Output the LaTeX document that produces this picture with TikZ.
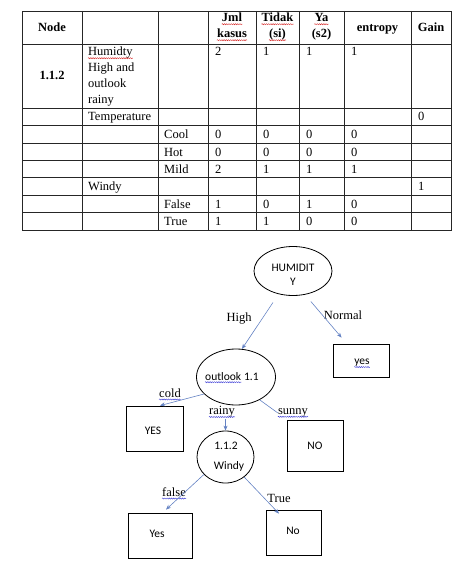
\documentclass[tikz,border=0pt]{standalone}
\usepackage{fontspec}
\setmainfont{Liberation Serif}
\newfontfamily\carl{Carlito}
\usetikzlibrary{shapes.geometric,arrows.meta,decorations.pathmorphing}
\definecolor{arrblue}{RGB}{100,130,195}
\definecolor{squigred}{RGB}{215,45,45}
\definecolor{squigblue}{RGB}{70,70,215}
\tikzset{
 grid/.style={line width=0.8pt, draw=black!85},
 cell/.style={anchor=base west, inner sep=0pt, font=\fontsize{12.5}{15}\selectfont},
 head/.style={anchor=base, inner sep=0pt, font=\fontsize{12.5}{15}\selectfont\bfseries},
 lab/.style={inner sep=0pt, font=\fontsize{12.5}{15}\selectfont},
 ell/.style={ellipse, draw, line width=0.8pt, inner sep=0pt},
 box/.style={rectangle, draw, line width=0.8pt, inner sep=0pt},
 sans/.style={inner sep=0pt, font=\carl\fontsize{11.5}{14}\selectfont},
 arr/.style={draw=arrblue, line width=0.6pt, -{Stealth[length=5pt,width=4pt]}},
 conn/.style={draw=arrblue, line width=0.6pt},
 squig/.style={line width=0.45pt, decorate, decoration={snake, amplitude=0.55pt, segment length=2.2pt}}
}
\newcommand\sq[2]{\draw[squig,#2] ([yshift=-2.2pt]#1.base west) -- ([yshift=-2.2pt]#1.base east);}
\begin{document}
\begin{tikzpicture}[x=1pt,y=-1pt]
\useasboundingbox (0,0) rectangle (474,575);
% ---------- table grid ----------
\draw[grid] (22,11) rectangle (451,230);
\foreach \yy in {44,108,125.4,142.9,160.3,177.7,195.1,212.6}
  \draw[grid] (22,\yy) -- (451,\yy);
\foreach \xx in {82,158,208,256,299,344,411}
  \draw[grid] (\xx,11) -- (\xx,230);
% ---------- header ----------
\node[head] (hNode) at (52,32) {Node};
\node[head] (hJml) at (232,22) {Jml};
\node[head] (hKas) at (232,38) {kasus};
\node[head] (hTid) at (277.5,22) {Tidak};
\node[head] (hSi) at (277.5,38) {(si)};
\node[head] (hYa) at (321.5,22) {Ya};
\node[head] (hS2) at (321.5,38) {(s2)};
\node[head] (hEnt) at (377.5,32) {entropy};
\node[head] (hGain) at (431,32) {Gain};
\sq{hJml}{squigred}\sq{hKas}{squigred}\sq{hTid}{squigred}\sq{hSi}{squigred}\sq{hYa}{squigred}
% ---------- row 1 ----------
\node[head] (r1node) at (52,80) {1.1.2};
\node[cell] (r1a) at (88,56) {Humidty};
\node[cell] (r1b) at (88,72) {High and};
\node[cell] (r1c) at (88,88) {outlook};
\node[cell] (r1d) at (88,103) {rainy};
\sq{r1a}{squigred}
\node[cell] (r1j) at (215,56) {2};
\node[cell] (r1t) at (263,56) {1};
\node[cell] (r1y) at (306,56) {1};
\node[cell] (r1e) at (351,56) {1};
% ---------- temperature ----------
\node[cell] (tTemp) at (88,121) {Temperature};
\node[cell] (tGain) at (418,121) {0};
\node[cell] (cCool) at (164,138.5) {Cool};
\node[cell] (cJ) at (215,138.5) {0};
\node[cell] (cT) at (263,138.5) {0};
\node[cell] (cY) at (306,138.5) {0};
\node[cell] (cE) at (351,138.5) {0};
\node[cell] (hHot) at (164,156) {Hot};
\node[cell] (hJ) at (215,156) {0};
\node[cell] (hT) at (263,156) {0};
\node[cell] (hY) at (306,156) {0};
\node[cell] (hE) at (351,156) {0};
\node[cell] (mMild) at (164,173.3) {Mild};
\node[cell] (mJ) at (215,173.3) {2};
\node[cell] (mT) at (263,173.3) {1};
\node[cell] (mY) at (306,173.3) {1};
\node[cell] (mE) at (351,173.3) {1};
% ---------- windy ----------
\node[cell] (wWindy) at (88,190.7) {Windy};
\node[cell] (wGain) at (418,190.7) {1};
\node[cell] (fFalse) at (164,208.2) {False};
\node[cell] (fJ) at (215,208.2) {1};
\node[cell] (fT) at (263,208.2) {0};
\node[cell] (fY) at (306,208.2) {1};
\node[cell] (fE) at (351,208.2) {0};
\node[cell] (tTrue) at (164,225.6) {True};
\node[cell] (tJ) at (215,225.6) {1};
\node[cell] (tT) at (263,225.6) {1};
\node[cell] (tY) at (306,225.6) {0};
\node[cell] (tE) at (351,225.6) {0};
% ---------- tree nodes ----------
\node[ell, minimum width=78pt, minimum height=49pt] (hum) at (293,271) {};
\node[sans, align=center] (humt) at (293,275) {HUMIDIT\\Y};
\node[box, minimum width=56pt, minimum height=33pt] (yesb) at (361,360.5) {};
\node[sans] (yest) at (362,363) {yes};
\node[ell, minimum width=79pt, minimum height=56pt] (out) at (236,377) {};
\node[sans, anchor=base west] (outt) at (205,380) {outlook};
\node[sans, anchor=base west] (outn) at ([xshift=2.6pt]outt.base east) {1.1};
\node[box, minimum width=57pt, minimum height=45pt] (YES) at (154.5,428.5) {};
\node[sans] (YESt) at (153,431) {YES};
\node[box, minimum width=56pt, minimum height=51pt] (NO) at (315,445.5) {};
\node[sans] (NOt) at (315,446) {NO};
\node[ell, minimum width=57pt, minimum height=52pt] (win) at (225.5,457) {};
\node[sans, anchor=base] (wint1) at (226,449) {1.1.2};
\node[sans, anchor=base] (wint2) at (229,469) {Windy};
\node[box, minimum width=64pt, minimum height=45pt] (yes2) at (160,535.5) {};
\node[sans] (yes2t) at (157,534) {Yes};
\node[box, minimum width=55pt, minimum height=45pt] (no2) at (293.5,532.5) {};
\node[sans] (no2t) at (293,531) {No};
% ---------- edge labels ----------
\node[lab] (hl) at (239,319) {High};
\node[lab] (nl) at (343,315) {Normal};
\node[lab] (cl) at (170,393) {cold};
\node[lab] (rl) at (222,412) {rainy};
\node[lab] (sl) at (293,413) {sunny};
\node[lab] (fl) at (174,492) {false};
\node[lab] (tl) at (279,498) {True};
\sq{yest}{squigblue}\sq{outt}{squigblue}\sq{cl}{squigblue}\sq{rl}{squigblue}\sq{sl}{squigblue}\sq{fl}{squigblue}
% ---------- connectors ----------
\draw[arr, shorten <=10pt] (hum.238) -- (out.78);
\draw[arr, shorten <=9pt] (hum.297) -- ([xshift=9pt,yshift=6pt]yesb.north west);
\draw[arr] (out.208) -- ([xshift=5.5pt]YES.north);
\draw[arr] ([yshift=-1pt]rl.south -| win.north) -- (win.north);
\draw[conn] (out.316) -- (sl.west);
\draw[arr] (win.219) -- ([xshift=6pt,yshift=3pt]yes2.north);
\draw[arr] (win.313) -- ([xshift=-14.5pt,yshift=-4pt]no2.north);
\end{tikzpicture}
\end{document}
